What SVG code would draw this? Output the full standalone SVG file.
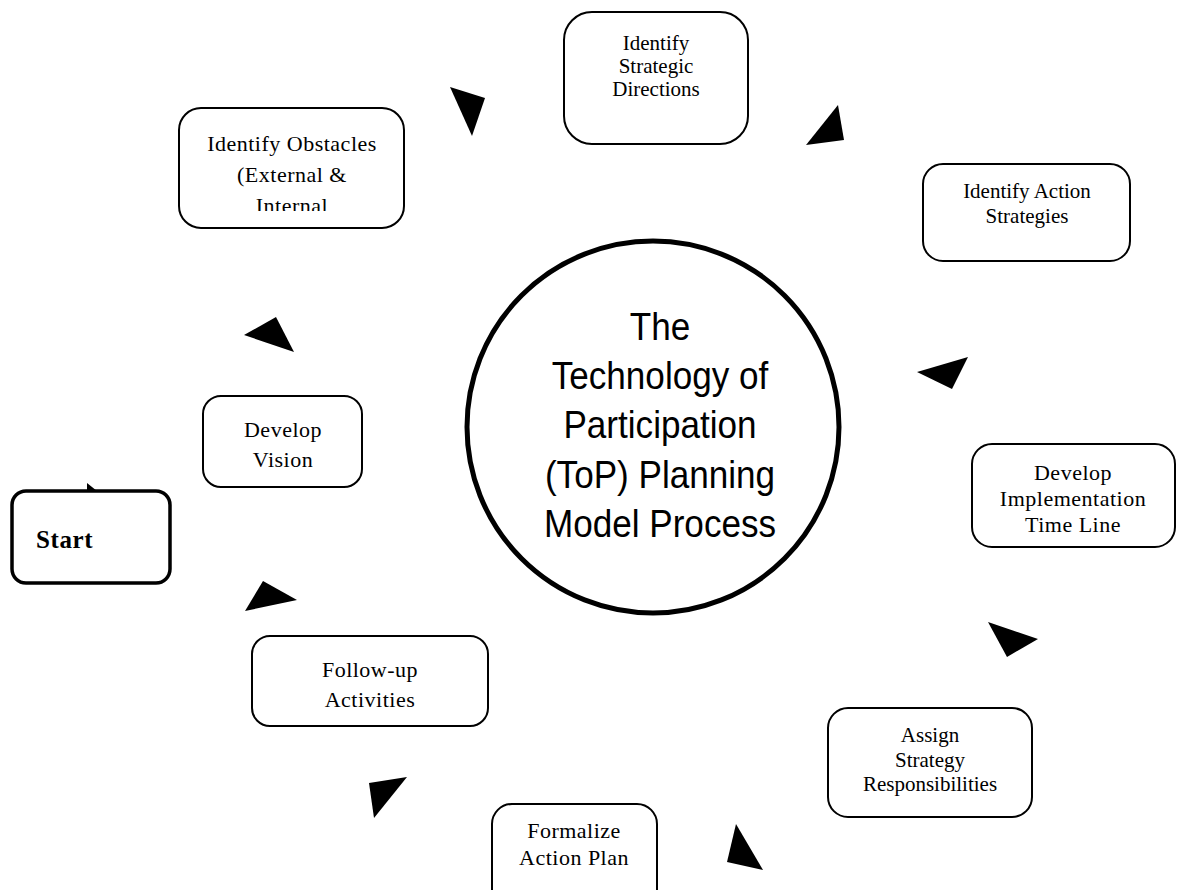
<svg xmlns="http://www.w3.org/2000/svg" width="1177" height="890" viewBox="0 0 1177 890">
<style>
.box{fill:#fff;stroke:#000;stroke-width:2}
.start{fill:#fff;stroke:#000;stroke-width:3.5}
.tms{font-family:"Liberation Serif","Times New Roman",serif;font-size:21px;fill:#000;text-anchor:middle}
.pal{font-family:"Liberation Serif","Times New Roman",serif;font-size:22px;fill:#000;text-anchor:middle;letter-spacing:0.5px}
.title{font-family:"Liberation Sans",Arial,sans-serif;font-size:39px;fill:#000;text-anchor:middle}
.tri{fill:#000;stroke:none}
</style>
<defs>
<clipPath id="obsClip"><rect x="179" y="108" width="226" height="103"/></clipPath>
</defs>
<rect width="1177" height="890" fill="#fff"/>

<g id="connectors">
<polygon class="tri" points="450,87 485,98 472,136"/>
<polygon class="tri" points="806,145 838,105 844,140"/>
<polygon class="tri" points="917,372 968,357 952,389"/>
<polygon class="tri" points="988,622 1038,639 1007,657"/>
<polygon class="tri" points="736,824 763,870 727,862"/>
<polygon class="tri" points="369,783 407,777 374,818"/>
<polygon class="tri" points="245,611 263,581 297,600"/>
<polygon class="tri" points="244,335 276,317 294,352"/>
<polygon class="tri" points="87,483 97,491 87,491"/>
</g>

<g id="center">
<circle cx="653" cy="427" r="186" fill="#fff" stroke="#000" stroke-width="5"/>
<g transform="translate(660,0) scale(0.9,1)">
<text class="title" x="0" y="340">The</text>
<text class="title" x="0" y="389">Technology of</text>
<text class="title" x="0" y="438">Participation</text>
<text class="title" x="0" y="488">(ToP) Planning</text>
<text class="title" x="0" y="537">Model Process</text>
</g>
</g>

<g id="strategic-directions">
<rect class="box" x="564" y="12" width="184" height="132" rx="28"/>
<text class="tms" x="656" y="50">Identify</text>
<text class="tms" x="656" y="73">Strategic</text>
<text class="tms" x="656" y="96">Directions</text>
</g>

<g id="action-strategies">
<rect class="box" x="923" y="164" width="207" height="97" rx="20"/>
<text class="tms" x="1027" y="198">Identify Action</text>
<text class="tms" x="1027" y="223">Strategies</text>
</g>

<g id="implementation-time-line">
<rect class="box" x="972" y="444" width="203" height="103" rx="20"/>
<text class="pal" x="1073" y="480">Develop</text>
<text class="pal" x="1073" y="506">Implementation</text>
<text class="pal" x="1073" y="532">Time Line</text>
</g>

<g id="assign-responsibilities">
<rect class="box" x="828" y="708" width="204" height="109" rx="20"/>
<text class="tms" x="930" y="742">Assign</text>
<text class="tms" x="930" y="767">Strategy</text>
<text class="tms" x="930" y="791">Responsibilities</text>
</g>

<g id="formalize-action-plan">
<rect class="box" x="492" y="804" width="165" height="110" rx="20"/>
<text class="pal" x="574" y="838">Formalize</text>
<text class="pal" x="574" y="865">Action Plan</text>
</g>

<g id="follow-up">
<rect class="box" x="252" y="636" width="236" height="90" rx="18"/>
<text class="pal" x="370" y="677">Follow-up</text>
<text class="pal" x="370" y="707">Activities</text>
</g>

<g id="start">
<rect class="start" x="12" y="491" width="158" height="92" rx="14"/>
<text x="36" y="548" font-family="'Liberation Serif','Times New Roman',serif" font-size="25" font-weight="bold" letter-spacing="0.6" fill="#000">Start</text>
</g>

<g id="develop-vision">
<rect class="box" x="203" y="396" width="159" height="91" rx="18"/>
<text class="pal" x="283" y="437">Develop</text>
<text class="pal" x="283" y="467">Vision</text>
</g>

<g id="identify-obstacles">
<rect class="box" x="179" y="108" width="225" height="120" rx="22"/>
<text class="pal" x="292" y="151">Identify Obstacles</text>
<text class="pal" x="292" y="182">(External &amp;</text>
<text class="pal" x="292" y="213" clip-path="url(#obsClip)">Internal</text>
</g>
</svg>
